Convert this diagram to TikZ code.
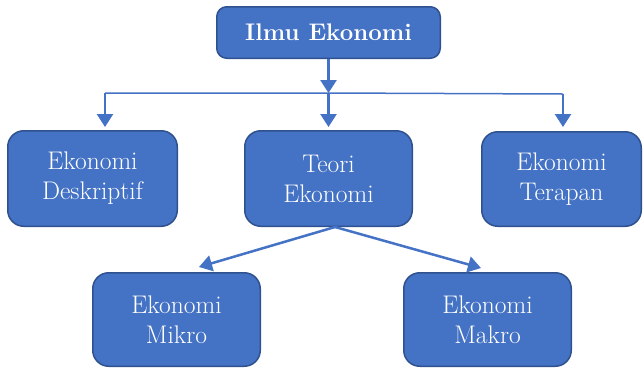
\documentclass[tikz,border=0pt]{standalone}
\usepackage{fontspec}
\setmainfont{Latin Modern Roman}
\usetikzlibrary{arrows.meta,calc}
\definecolor{boxfill}{HTML}{4472C4}
\definecolor{boxline}{HTML}{2F528F}
\begin{document}
\begin{tikzpicture}[x=1pt,y=-1pt,
  box/.style={draw=boxline,line width=1.5pt,fill=boxfill,rounded corners=16pt,
    text=white,align=center,inner sep=0pt,font=\fontsize{25.5}{30}\selectfont},
  topbox/.style={box,rounded corners=10pt,font=\fontsize{24}{28}\selectfont\bfseries},
  conn/.style={draw=boxfill,line width=2.5pt,-{Triangle[width=16pt,length=13pt]}},
  thin/.style={draw=boxfill,line width=1.5pt}]
\useasboundingbox (0,0) rectangle (643,368);
\node[topbox,minimum width=223.5pt,minimum height=51.5pt] (top) at (328.5,32.5) {Ilmu Ekonomi};
\node[box,minimum width=169.5pt,minimum height=95.5pt] (desc) at (92.5,178.5) {Ekonomi\\Deskriptif};
\node[box,minimum width=167.5pt,minimum height=95.5pt] (teori) at (328.5,178.5) {Teori\\Ekonomi};
\node[box,minimum width=159.5pt,minimum height=94.5pt] (terap) at (561.5,179) {Ekonomi\\Terapan};
\node[box,minimum width=167.5pt,minimum height=93.5pt] (mikro) at (176.5,319.5) {Ekonomi\\Mikro};
\node[box,minimum width=167.5pt,minimum height=93.5pt] (makro) at (487.5,319.5) {Ekonomi\\Makro};
\coordinate (jc) at (328.5,93);
\coordinate (jl) at (105,93);
\coordinate (jr) at (563,94);
\coordinate (ds) at (335,227);
\coordinate (tl) at (199,267);
\coordinate (tr) at (481,268);
\draw[thin] (jl) -- (jc) -- (jr);
\draw[conn] (top.south) -- (jc);
\draw[conn,shorten >=3pt] (jc) -- (teori.north);
\draw[conn,shorten >=3pt] (jl) -- (jl |- desc.north);
\draw[conn,shorten >=4pt] (jr) -- (jr |- terap.north);
\draw[conn] (ds) -- (tl);
\draw[conn] (ds) -- (tr);
\end{tikzpicture}
\end{document}
